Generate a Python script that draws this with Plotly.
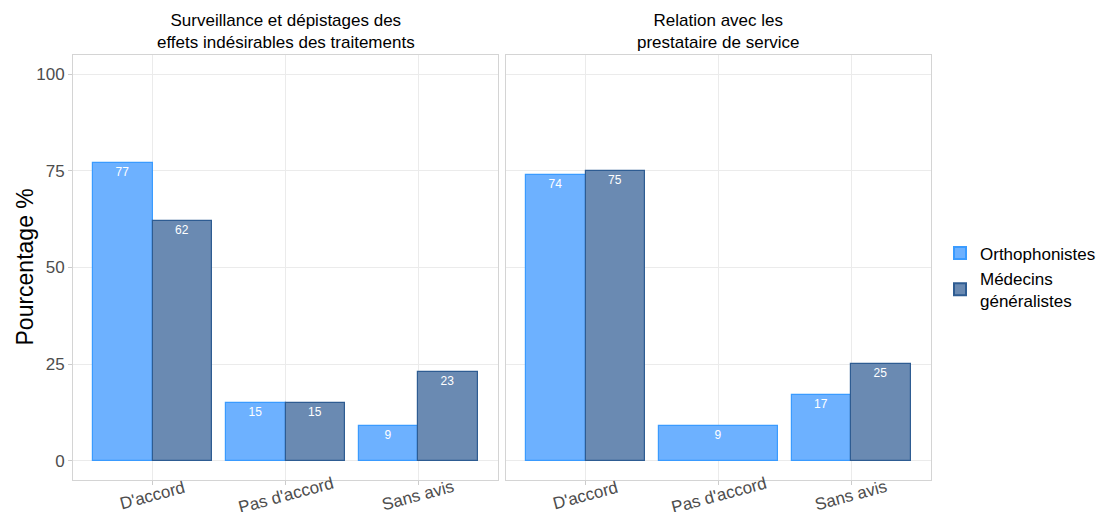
import plotly.graph_objects as go

categories = ["D'accord", "Pas d'accord", "Sans avis"]
panel_titles = ["Surveillance et dépistages des<br>effets indésirables des traitements",
                "Relation avec les<br>prestataire de service"]
ortho_p1 = [77, 15, 9]
medecin_p1 = [62, 15, 23]
ortho_p2 = [74, 9, 17]
medecin_p2 = [75, None, 25]
series_names = ["Orthophonistes", "Médecins<br>généralistes"]
y_title = "Pourcentage %"

ortho_fill = "#6DB1FF"
ortho_line = "#3A9BFF"
med_fill = "#6A8AB2"
med_line = "#2E5C92"

FONT = "Liberation Sans, Arial, sans-serif"
fig = go.Figure()

panels = [(ortho_p1, medecin_p1, "x", "y"), (ortho_p2, medecin_p2, "x2", "y2")]
for i, (o, m, xa, ya) in enumerate(panels):
    # dodge: single bar takes full width when the other group is missing
    o_width = [0.45 if mv is not None else 0.9 for mv in m]
    o_offset = [-0.45 for _ in m]
    fig.add_trace(go.Bar(
        x=categories, y=o, xaxis=xa, yaxis=ya, name=series_names[0],
        width=o_width, offset=o_offset,
        marker=dict(color=ortho_fill, line=dict(color=ortho_line, width=1.2)),
        text=[str(v) for v in o], textposition="inside", insidetextanchor="end",
        textfont=dict(color="white", size=12, family=FONT), textangle=0,
        showlegend=(i == 0), legendgroup="o",
    ))
    fig.add_trace(go.Bar(
        x=categories, y=m, xaxis=xa, yaxis=ya, name=series_names[1],
        width=[0.45] * len(m), offset=[0.0] * len(m),
        marker=dict(color=med_fill, line=dict(color=med_line, width=1.2)),
        text=[str(v) if v is not None else "" for v in m], textposition="inside",
        insidetextanchor="end",
        textfont=dict(color="white", size=12, family=FONT), textangle=0,
        showlegend=(i == 0), legendgroup="m",
    ))

grid = "#EBEBEB"
border = "#D4D4D4"
common_x = dict(type="category", range=[-0.6, 2.6], showgrid=True, gridcolor=grid,
                showline=True, mirror=True, linecolor=border, linewidth=1,
                ticks="outside", ticklen=4, tickcolor="#CCCCCC",
                showticklabels=False, zeroline=False, automargin=False)
common_y = dict(range=[-5, 105], tickvals=[0, 25, 50, 75, 100], showgrid=True, gridcolor=grid,
                showline=True, mirror=True, linecolor=border, linewidth=1,
                zeroline=False, automargin=False)

# page has an 8px body margin: figure is drawn offset by (8, 8)
W, H = 1097, 504
L, T = 65, 47
R = W - (931 - 8)
B = H - (480 - 8)
pw = W - L - R
d1 = (498 - 8 - L) / pw
d2 = (506 - 8 - L) / pw

fig.update_layout(
    width=W, height=H,
    margin=dict(l=L, r=R, t=T, b=B),
    paper_bgcolor="white", plot_bgcolor="white",
    barmode="overlay", bargap=0,
    font=dict(family=FONT),
    xaxis=dict(domain=[0, d1], **common_x),
    xaxis2=dict(domain=[d2, 1], **common_x),
    yaxis=dict(anchor="x", ticks="outside", ticklen=4, tickcolor="#CCCCCC",
               tickfont=dict(size=17, color="#4D4D4D", family=FONT),
               **common_y),
    yaxis2=dict(anchor="x2", showticklabels=False, ticks="", **common_y),
    legend=dict(xref="container", yref="container", x=(940 - 8) / W, y=1 - (277 - 8) / H,
                yanchor="middle", xanchor="left",
                font=dict(size=17, color="black", family=FONT),
                tracegroupgap=0, itemsizing="constant"),
    showlegend=True,
)

# y-axis title
fig.add_annotation(text=y_title, x=(24 - 8 - L) / pw, y=0.5, xref="paper", yref="paper",
                   xanchor="center", yanchor="middle", textangle=-90, showarrow=False,
                   font=dict(size=23, color="black", family=FONT))

# rotated category labels, centred under each tick
for xa in ["x", "x2"]:
    for c in categories:
        fig.add_annotation(text=c, x=c, y=0, xref=xa, yref="paper", xanchor="center",
                           yanchor="middle", yshift=-15, textangle=-15, showarrow=False,
                           font=dict(size=17, color="#4D4D4D", family=FONT))

for title, (x0, x1) in zip(panel_titles, [(0, d1), (d2, 1)]):
    fig.add_annotation(text=title, x=(x0 + x1) / 2, y=1.0, xref="paper", yref="paper",
                       xanchor="center", yanchor="bottom", showarrow=False, yshift=1,
                       font=dict(size=17, color="black", family=FONT))

fig.write_html("out.html")
